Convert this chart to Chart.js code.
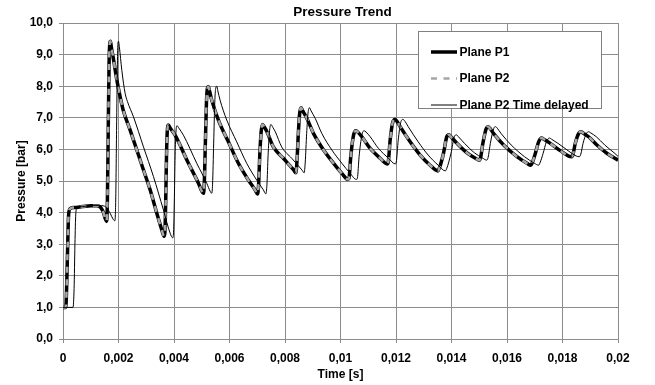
<!DOCTYPE html>
<html>
<head>
<meta charset="utf-8">
<title>Pressure Trend</title>
<script src="https://cdn.jsdelivr.net/npm/chart.js@4/dist/chart.umd.min.js"></script>
<style>
  html, body { margin: 0; padding: 0; background: #fff; }
  canvas { display: block; }
</style>
</head>
<body>
<canvas id="chart" width="655" height="385"></canvas>
<script>
// ---- Chart texts ----
const chartTitle = 'Pressure Trend';
const xAxisTitle = 'Time [s]';
const yAxisTitle = 'Pressure [bar]';
const seriesNames = ['Plane P1', 'Plane P2', 'Plane P2 Time delayed'];

// ---- Axis ticks ----
const xTickValues = [0, 0.002, 0.004, 0.006, 0.008, 0.01, 0.012, 0.014, 0.016, 0.018, 0.02];
const xTickLabels = ['0', '0,002', '0,004', '0,006', '0,008', '0,01', '0,012', '0,014', '0,016', '0,018', '0,02'];
const yTickValues = [0, 1, 2, 3, 4, 5, 6, 7, 8, 9, 10];
const yTickLabels = ['0,0', '1,0', '2,0', '3,0', '4,0', '5,0', '6,0', '7,0', '8,0', '9,0', '10,0'];

// ---- Measured series: planes P1 and P2 share the sampling times ----
const timeMain = [
  0, 0.0001, 0.00013, 0.00017, 0.0002, 0.00025, 0.0004, 0.0007, 0.001, 0.00122,
  0.00135, 0.00145, 0.00152, 0.00157, 0.0016, 0.00163, 0.00166, 0.00169, 0.00171, 0.00174,
  0.00181, 0.00194, 0.00206, 0.00217, 0.00242, 0.00266, 0.0029, 0.00314, 0.00338, 0.00356,
  0.00364, 0.00367, 0.0037, 0.00373, 0.00376, 0.0038, 0.00386, 0.00404, 0.00452, 0.00488,
  0.005, 0.00506, 0.00509, 0.00513, 0.00517, 0.0052, 0.00524, 0.00528, 0.00536, 0.0056,
  0.00596, 0.00632, 0.00668, 0.00692, 0.00701, 0.00705, 0.00709, 0.00714, 0.00719, 0.00726,
  0.00735, 0.00758, 0.00794, 0.00831, 0.00839, 0.00843, 0.00848, 0.00853, 0.00858, 0.00864,
  0.00879, 0.00903, 0.00939, 0.00975, 0.01005, 0.01027, 0.01031, 0.01037, 0.01047, 0.01055,
  0.01062, 0.01077, 0.01107, 0.01143, 0.01168, 0.01172, 0.01179, 0.01188, 0.01196, 0.01204,
  0.01215, 0.01251, 0.01287, 0.01323, 0.01351, 0.01356, 0.01371, 0.01383, 0.01391, 0.01398,
  0.0142, 0.01456, 0.01486, 0.015, 0.01505, 0.01513, 0.01525, 0.01532, 0.01538, 0.01552,
  0.01588, 0.01636, 0.01672, 0.01686, 0.01692, 0.01702, 0.01714, 0.01725, 0.01733, 0.01756,
  0.01792, 0.01822, 0.01833, 0.01838, 0.01846, 0.01858, 0.01866, 0.01874, 0.01894, 0.01924,
  0.01961, 0.02
];
const pressureP1 = [
  1.00, 1.00, 1.60, 3.00, 3.90, 4.12, 4.16, 4.19, 4.22, 4.22,
  4.17, 4.02, 3.82, 3.72, 4.40, 6.60, 8.70, 9.38, 9.42, 9.25,
  8.90, 8.20, 7.66, 7.24, 6.61, 5.98, 5.35, 4.72, 3.98, 3.45,
  3.25, 3.35, 4.30, 5.80, 6.60, 6.77, 6.68, 6.45, 5.56, 4.93,
  4.68, 4.61, 4.90, 6.20, 7.50, 7.92, 7.98, 7.85, 7.56, 6.93,
  6.24, 5.56, 5.03, 4.72, 4.59, 4.90, 5.80, 6.55, 6.79, 6.70,
  6.56, 6.08, 5.72, 5.35, 5.26, 5.60, 6.50, 7.15, 7.32, 7.22,
  6.98, 6.50, 5.98, 5.56, 5.24, 5.05, 5.10, 5.77, 6.45, 6.59,
  6.55, 6.40, 6.03, 5.72, 5.54, 5.60, 6.30, 6.85, 6.95, 6.88,
  6.72, 6.24, 5.82, 5.50, 5.32, 5.40, 5.87, 6.40, 6.46, 6.40,
  6.19, 5.89, 5.72, 5.66, 5.75, 6.19, 6.66, 6.72, 6.67, 6.50,
  6.14, 5.77, 5.56, 5.50, 5.60, 5.87, 6.24, 6.36, 6.32, 6.19,
  5.96, 5.79, 5.77, 5.85, 6.19, 6.50, 6.56, 6.52, 6.40, 6.14,
  5.87, 5.66
];
const pressureP2 = [
  1.00, 1.00, 1.60, 3.00, 3.90, 4.12, 4.16, 4.19, 4.22, 4.22,
  4.17, 4.02, 3.82, 3.72, 4.40, 6.60, 8.70, 9.38, 9.42, 9.25,
  8.90, 8.20, 7.66, 7.24, 6.61, 5.98, 5.35, 4.72, 3.98, 3.45,
  3.25, 3.35, 4.30, 5.80, 6.60, 6.77, 6.68, 6.45, 5.56, 4.93,
  4.68, 4.61, 4.90, 6.20, 7.50, 7.92, 7.98, 7.85, 7.56, 6.93,
  6.24, 5.56, 5.03, 4.72, 4.59, 4.90, 5.80, 6.55, 6.79, 6.70,
  6.56, 6.08, 5.72, 5.35, 5.26, 5.60, 6.50, 7.15, 7.32, 7.22,
  6.98, 6.50, 5.98, 5.56, 5.24, 5.05, 5.10, 5.77, 6.45, 6.59,
  6.55, 6.40, 6.03, 5.72, 5.54, 5.60, 6.30, 6.85, 6.95, 6.88,
  6.72, 6.24, 5.82, 5.50, 5.32, 5.40, 5.87, 6.40, 6.46, 6.40,
  6.19, 5.89, 5.72, 5.66, 5.75, 6.19, 6.66, 6.72, 6.67, 6.50,
  6.14, 5.77, 5.56, 5.50, 5.60, 5.87, 6.24, 6.36, 6.32, 6.19,
  5.96, 5.79, 5.77, 5.85, 6.19, 6.50, 6.56, 6.52, 6.40, 6.14,
  5.87, 5.66
];

// ---- Plane P2 recorded with its time delay ----
const timeDelayed = [
  0, 0.00036, 0.0004, 0.00043, 0.00046, 0.0005, 0.0007, 0.001, 0.0014, 0.00158,
  0.0017, 0.0018, 0.00187, 0.0019, 0.00193, 0.00196, 0.00198, 0.002, 0.00203, 0.00212,
  0.00224, 0.00232, 0.00254, 0.0029, 0.00326, 0.00362, 0.00386, 0.00395, 0.00398, 0.00401,
  0.00404, 0.00407, 0.00411, 0.00417, 0.00434, 0.00482, 0.00518, 0.0053, 0.00536, 0.00539,
  0.00543, 0.00547, 0.0055, 0.00554, 0.00558, 0.00566, 0.0059, 0.00626, 0.00662, 0.00698,
  0.00722, 0.00731, 0.00735, 0.00739, 0.00744, 0.00749, 0.00756, 0.00765, 0.00788, 0.00824,
  0.00861, 0.00869, 0.00873, 0.00878, 0.00883, 0.00888, 0.00894, 0.00909, 0.00933, 0.00969,
  0.01005, 0.01035, 0.01057, 0.01061, 0.01067, 0.01077, 0.01085, 0.01092, 0.01107, 0.01137,
  0.01173, 0.01197, 0.01201, 0.01208, 0.01217, 0.01225, 0.01233, 0.01244, 0.0128, 0.01316,
  0.01352, 0.01378, 0.01383, 0.01398, 0.0141, 0.01418, 0.01425, 0.01447, 0.01483, 0.01513,
  0.01527, 0.01532, 0.0154, 0.01552, 0.01559, 0.01565, 0.01579, 0.01615, 0.01663, 0.01699,
  0.01714, 0.0172, 0.0173, 0.01742, 0.01753, 0.01761, 0.01784, 0.0182, 0.0185, 0.01861,
  0.01866, 0.01874, 0.01886, 0.01894, 0.01902, 0.01922, 0.01952, 0.01989, 0.02
];
const pressureDelayed = [
  1.00, 1.00, 1.60, 3.00, 3.95, 4.14, 4.19, 4.22, 4.22, 4.15,
  3.98, 3.80, 3.74, 4.40, 6.60, 8.70, 9.36, 9.42, 9.25, 8.50,
  7.77, 7.52, 7.03, 6.08, 5.14, 4.08, 3.35, 3.20, 3.32, 4.30,
  5.80, 6.55, 6.75, 6.68, 6.45, 5.56, 4.93, 4.68, 4.61, 4.90,
  6.20, 7.50, 7.92, 8.00, 7.85, 7.56, 6.93, 6.24, 5.56, 5.03,
  4.72, 4.59, 4.90, 5.80, 6.55, 6.79, 6.70, 6.56, 6.08, 5.72,
  5.35, 5.26, 5.60, 6.50, 7.15, 7.32, 7.22, 6.98, 6.50, 5.98,
  5.56, 5.24, 5.05, 5.10, 5.77, 6.45, 6.59, 6.55, 6.40, 6.03,
  5.72, 5.54, 5.60, 6.30, 6.85, 6.95, 6.88, 6.72, 6.24, 5.82,
  5.50, 5.32, 5.40, 5.87, 6.40, 6.46, 6.40, 6.19, 5.89, 5.72,
  5.66, 5.75, 6.19, 6.66, 6.72, 6.67, 6.50, 6.14, 5.77, 5.56,
  5.50, 5.60, 5.87, 6.24, 6.36, 6.32, 6.19, 5.96, 5.79, 5.77,
  5.85, 6.19, 6.50, 6.56, 6.52, 6.40, 6.14, 5.87, 5.78
];

function toPoints(xs, ys) {
  return xs.map((x, i) => ({ x: x, y: ys[i] }));
}

const fontFamily = '"Liberation Sans", Arial, Helvetica, sans-serif';
const boldFont = { family: fontFamily, size: 12, weight: 'bold' };
const gridColor = '#8c8c8c';

// Title centred over the plotting area
const centredTitle = {
  id: 'centredTitle',
  afterDraw(chart) {
    const { ctx, chartArea } = chart;
    ctx.save();
    ctx.font = 'bold 13.5px ' + fontFamily;
    ctx.fillStyle = '#000';
    ctx.textAlign = 'center';
    ctx.textBaseline = 'middle';
    ctx.fillText(chartTitle, (chartArea.left + chartArea.right) / 2 + 2, 12);
    ctx.restore();
  }
};

// Framed legend inside the plotting area, top right
const framedLegend = {
  id: 'framedLegend',
  afterDatasetsDraw(chart) {
    const { ctx, chartArea } = chart;
    const left = chartArea.left + 355.5;
    const top = chartArea.top + 8.5;
    const width = 183;
    const height = 77;
    ctx.save();
    ctx.fillStyle = '#fff';
    ctx.fillRect(left, top, width, height);
    ctx.strokeStyle = '#808080';
    ctx.lineWidth = 1;
    ctx.strokeRect(left, top, width, height);
    const rowY = [top + 20.5, top + 47, top + 73.5];
    chart.data.datasets.forEach((ds, i) => {
      const y = rowY[i];
      ctx.beginPath();
      ctx.setLineDash(ds.borderDash || []);
      ctx.lineDashOffset = 0;
      ctx.strokeStyle = ds.borderColor;
      ctx.lineWidth = ds.borderWidth;
      ctx.lineCap = 'butt';
      ctx.moveTo(left + 12.5, y);
      ctx.lineTo(left + 38.5, y);
      ctx.stroke();
      ctx.setLineDash([]);
      ctx.font = 'bold 12px ' + fontFamily;
      ctx.fillStyle = '#000';
      ctx.textAlign = 'left';
      ctx.textBaseline = 'middle';
      ctx.fillText(ds.label, left + 41, y + 0.5);
    });
    ctx.restore();
  }
};

new Chart(document.getElementById('chart'), {
  type: 'line',
  data: {
    datasets: [
      {
        label: seriesNames[0],
        data: toPoints(timeMain, pressureP1),
        borderColor: '#000000',
        borderWidth: 3.5,
        order: 2
      },
      {
        label: seriesNames[1],
        data: toPoints(timeMain, pressureP2),
        borderColor: '#a6a6a6',
        borderWidth: 2.5,
        borderDash: [6, 6.5],
        order: 1
      },
      {
        label: seriesNames[2],
        data: toPoints(timeDelayed, pressureDelayed),
        borderColor: '#000000',
        borderWidth: 1,
        order: 0
      }
    ]
  },
  options: {
    responsive: false,
    animation: false,
    events: [],
    elements: {
      point: { radius: 0, hoverRadius: 0 },
      line: { cubicInterpolationMode: 'monotone', fill: false }
    },
    layout: { padding: { top: 23, right: 37, left: 0, bottom: 0 } },
    plugins: {
      legend: { display: false },
      title: { display: false },
      tooltip: { enabled: false }
    },
    scales: {
      x: {
        type: 'linear',
        min: 0,
        max: 0.02,
        afterBuildTicks: (scale) => { scale.ticks = xTickValues.map(v => ({ value: v })); },
        afterFit: (scale) => { scale.height = 46; },
        ticks: {
          autoSkip: false,
          maxRotation: 0,
          padding: 8,
          color: '#000',
          font: boldFont,
          callback: (value, index) => xTickLabels[index]
        },
        grid: { color: gridColor, lineWidth: 1, tickLength: 4, drawTicks: true },
        border: { color: gridColor, width: 1 },
        title: {
          display: true,
          text: xAxisTitle,
          color: '#000',
          font: boldFont,
          padding: { top: 0, bottom: 3 }
        }
      },
      y: {
        type: 'linear',
        min: 0,
        max: 10,
        afterBuildTicks: (scale) => { scale.ticks = yTickValues.map(v => ({ value: v })); },
        afterFit: (scale) => { scale.width = 63; },
        ticks: {
          autoSkip: false,
          padding: 6,
          color: '#000',
          font: boldFont,
          callback: (value, index) => yTickLabels[index]
        },
        grid: { color: gridColor, lineWidth: 1, tickLength: 4, drawTicks: true },
        border: { color: gridColor, width: 1 },
        title: {
          display: true,
          text: yAxisTitle,
          color: '#000',
          font: boldFont,
          padding: { top: 14, bottom: 0 }
        }
      }
    }
  },
  plugins: [centredTitle, framedLegend]
});
</script>
</body>
</html>
